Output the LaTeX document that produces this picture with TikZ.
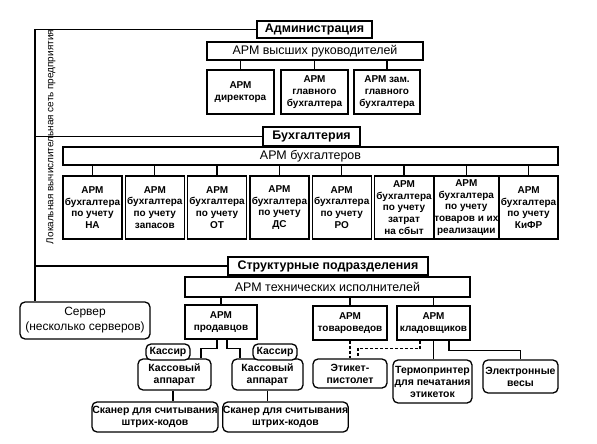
\documentclass[tikz,border=0pt]{standalone}
\usepackage{fontspec}
\setmainfont{Liberation Sans}

\begin{document}
\begin{tikzpicture}[x=1bp, y=-1bp, line width=1.3bp,
        box/.style={draw, fill=white, inner sep=0pt, align=center, font=\bfseries\fontsize{10}{11.8}\selectfont},
        rbox/.style={box, rounded corners=5bp, font=\bfseries\fontsize{10.5}{12}\selectfont},
        head/.style={draw, fill=white, inner sep=0pt, font=\bfseries\fontsize{12.5}{14}\selectfont},
        band/.style={draw, fill=white, inner sep=0pt, font=\fontsize{12.5}{14}\selectfont}]
        \useasboundingbox (0,0) rectangle (597,444);
        \coordinate (lan) at (35,29.5);
        % администрация
        \node (adm) [head, minimum width=115bp, minimum height=17bp] at (314.5,29.5) {Администрация};
        \node (vys) [band, minimum width=216bp, minimum height=18bp] at (315,51) {АРМ высших руководителей};
        \node (dir) [box, minimum width=67bp, minimum height=44bp] at (240.5,92) {АРМ\\директора};
        \node (glav) [box, minimum width=67bp, minimum height=44bp] at (314.5,92) {АРМ\\главного\\бухгалтера};
        \node (zam) [box, minimum width=66bp, minimum height=44bp] at (387,92) {АРМ зам.\\главного\\бухгалтера};
        % бухгалтерия
        \node (buh) [head, minimum width=97bp, minimum height=19bp] at (311.5,136.5) {Бухгалтерия};
        \node (buharm) [band, minimum width=495bp, minimum height=18bp] at (310.5,156) {АРМ бухгалтеров};
        \foreach \i/\txt in {0/НА, 1/запасов, 2/ОТ, 3/ДС, 4/РО, 5/{затрат\\на сбыт}, 6/{товаров и их\\реализации}, 7/КиФР}
        {
                \node (b\i) [box, minimum width=59bp, minimum height=63bp] at (92.5+62.3*\i,207.5) {АРМ\\бухгалтера\\по учету\\\txt};
                \draw (b\i.north) -- (b\i.north |- buharm.south);
        }
        % структурные подразделения
        \node (str) [head, minimum width=200bp, minimum height=18bp] at (328,266) {Структурные подразделения};
        \node (teh) [band, minimum width=285bp, minimum height=20bp] at (327.5,287) {АРМ технических исполнителей};
        \node (prod) [box, minimum width=72bp, minimum height=34bp] at (221,322) {АРМ\\продавцов};
        \node (tov) [box, minimum width=74bp, minimum height=34bp] at (350,323) {АРМ\\товароведов};
        \node (klad) [box, minimum width=73bp, minimum height=34bp] at (433.5,323) {АРМ\\кладовщиков};
        \node (srv) [rbox, minimum width=130bp, minimum height=37bp, font=\fontsize{12}{15}\selectfont] at (85,320.5) {Сервер\\(несколько серверов)};
        \node (kass1) [rbox, minimum width=73bp, minimum height=31bp] at (174.5,374.5) {Кассовый\\аппарат};
        \node (kass2) [rbox, minimum width=71bp, minimum height=31bp] at (267.5,374.5) {Кассовый\\аппарат};
        \node (kas1) [rbox, minimum width=44bp, minimum height=16bp] at (168,352) {Кассир};
        \node (kas2) [rbox, minimum width=44bp, minimum height=16bp] at (275,352) {Кассир};
        \node (scan1) [rbox, minimum width=126bp, minimum height=30bp] at (155,417) {Сканер для считывания\\штрих-кодов};
        \node (scan2) [rbox, minimum width=125bp, minimum height=30bp] at (285.5,417) {Сканер для считывания\\штрих-кодов};
        \node (etik) [rbox, minimum width=74bp, minimum height=29bp] at (350,373.5) {Этикет-\\пистолет};
        \node (term) [rbox, minimum width=79bp, minimum height=43bp] at (432.5,381.5) {Термопринтер\\для печатания\\этикеток};
        \node (ves) [rbox, minimum width=75bp, minimum height=33bp] at (520.5,376.5) {Электронные\\весы};

        \node (lanlbl) [rotate=90, font=\fontsize{10}{12}\selectfont] at (51,137) {Локальная вычислительная сеть предприятия};

        \draw (lan) -- (adm.west);
        \draw (lan |- buh.west) -- (buh.west);
        \draw (lan |- str.west) -- (str.west);
        \draw (lan) -- (lan |- srv.north);
        \draw (dir.north) -- (dir.north |- vys.south);
        \draw (glav.north) -- (glav.north |- vys.south);
        \draw (zam.north) -- (zam.north |- vys.south);
        \draw (prod.north) -- (prod.north |- teh.south);
        \draw (tov.north) -- (tov.north |- teh.south);
        \draw (klad.north) -- (klad.north |- teh.south);
        \draw ([xshift=-4bp]prod.south) -- ++(0,9) -| ([xshift=26.5bp]kass1.north);
        \draw ([xshift=6bp]prod.south) -- ++(0,9) -| ([xshift=-27.5bp]kass2.north);
        \draw ([xshift=-1.5bp]kass1.south) -- ([xshift=-1.5bp]kass1.south |- scan1.north);
        \draw (kass2.south) -- (kass2.south |- scan2.north);
        \draw [densely dashed] (tov.south) -- (etik.north);
        \draw [densely dashed] ([xshift=-13.5bp]klad.south) -- ++(0,8) -| ([xshift=8bp]etik.north);
        \draw (klad.south) -- (klad.south |- term.north);
        \draw ([xshift=15.5bp]klad.south) -- ++(0,10) -| (ves.north);
\end{tikzpicture}
\end{document}
